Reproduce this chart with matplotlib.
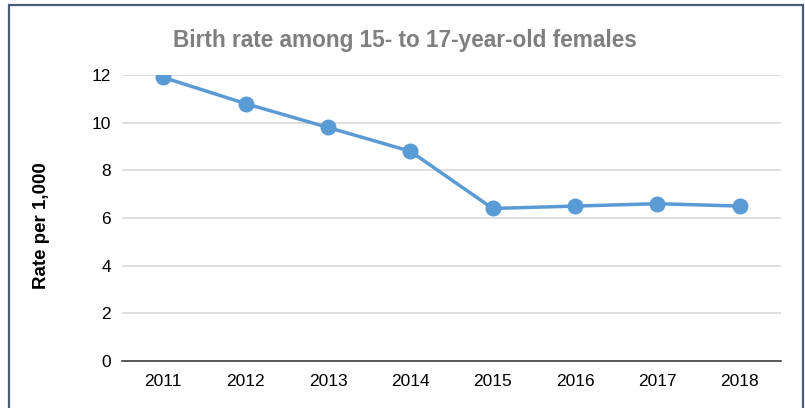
import matplotlib
matplotlib.use("Agg")
import matplotlib.pyplot as plt
from matplotlib.patches import Rectangle

years = ["2011", "2012", "2013", "2014", "2015", "2016", "2017", "2018"]
rates = [11.9, 10.8, 9.8, 8.8, 6.4, 6.5, 6.6, 6.5]
yticks = [0, 2, 4, 6, 8, 10, 12]

plt.rcParams['font.family'] = ['Liberation Sans', 'DejaVu Sans']

fig = plt.figure(figsize=(8.05, 4.08), dpi=100)
W, H = 805, 408
ax = fig.add_axes([122 / W, 1 - 361 / H, (781 - 122) / W, (361 - 75) / H])

x = list(range(len(years)))
ax.plot(x, rates, color="#5B9BD5", linewidth=2.5, marker="o", markersize=10.5,
        markerfacecolor="#5B9BD5", markeredgecolor="#5B9BD5", zorder=3)

ax.set_xlim(-0.5, len(years) - 0.5)
ax.set_ylim(0, 12)
ax.set_yticks(yticks)
ax.set_xticks(x)
ax.set_xticklabels(years)
ax.grid(axis="y", color="#D9D9D9", linewidth=1.2)
ax.set_axisbelow(True)
for s in ["top", "right", "left"]:
    ax.spines[s].set_visible(False)
ax.spines["bottom"].set_color("#404040")
ax.spines["bottom"].set_linewidth(1.2)
ax.tick_params(axis="both", length=0, labelsize=12.5, colors="#000000")
ax.tick_params(axis="y", pad=8)
ax.tick_params(axis="x", pad=9)

fig.text(42 / W, 1 - 226 / H, "Rate per 1,000", rotation=90, ha="center", va="center",
         fontsize=13.5, fontweight="bold", color="#000000")
fig.text(405 / W, 1 - 40 / H, "Birth rate among 15- to 17-year-old females",
         ha="center", va="center", fontsize=16.3, fontweight="bold", color="#7F7F7F")

fig.patches.append(Rectangle((9 / W, -0.05), (803 - 9) / W, 1.05 - 5 / H,
                             transform=fig.transFigure, fill=False,
                             edgecolor="#4A5A78", linewidth=1.6))

fig.savefig("out.png", dpi=100, facecolor="white")
